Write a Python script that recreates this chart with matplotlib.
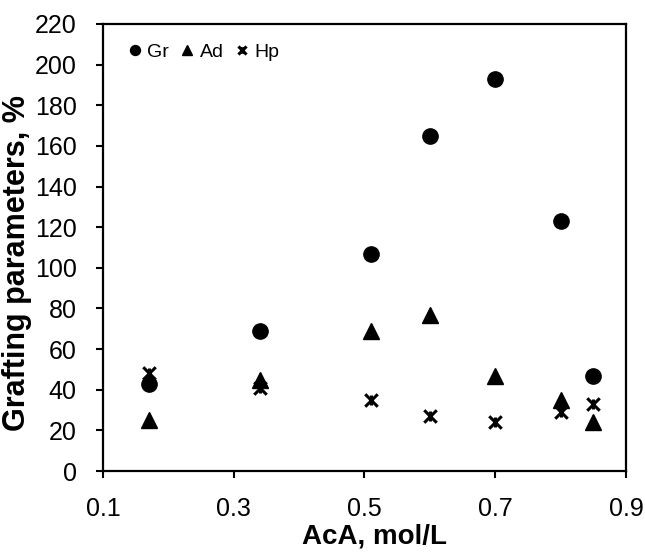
import numpy as np
import matplotlib
matplotlib.use("Agg")
import matplotlib.pyplot as plt
from matplotlib.path import Path

plt.rcParams['font.family'] = ['Liberation Sans', 'DejaVu Sans']

# donnees
aca = [0.17, 0.34, 0.51, 0.60, 0.70, 0.80, 0.85]
gr = [43, 69, 107, 165, 193, 123, 47]
ad = [25, 45, 69, 77, 47, 35, 24]
hp = [48, 41, 35, 27, 24, 29, 33]

xticks = [0.1, 0.3, 0.5, 0.7, 0.9]
yticks = list(range(0, 221, 20))

# marqueur etoile facon Excel (x + trait vertical)
star = Path([(-1, -1), (1, 1), (-1, 1), (1, -1), (0, -0.8), (0, 0.8)],
            [Path.MOVETO, Path.LINETO, Path.MOVETO, Path.LINETO, Path.MOVETO, Path.LINETO])

fig = plt.figure(figsize=(6.45, 5.54), dpi=100)
ax = fig.add_axes([0.1597, 0.1498, 0.8108, 0.8069])

ax.plot(aca, gr, 'o', color='black', markersize=11, label='Gr')
ax.plot(aca, ad, '^', color='black', markersize=11, label='Ad')
ax.plot(aca, hp, linestyle='none', marker=star, color='black', markersize=9,
        markeredgewidth=2.2, label='Hp')

ax.set_xlim(0.1, 0.9)
ax.set_ylim(0, 220)
ax.set_xticks(xticks)
ax.set_xticklabels([str(v) for v in xticks])
ax.set_yticks(yticks)
ax.tick_params(labelsize=18, width=1.5, length=5, direction='out', colors='black')
ax.tick_params(axis='x', pad=14)
ax.tick_params(axis='y', pad=14)
for s in ax.spines.values():
    s.set_linewidth(1.6)

ax.set_xlabel('AcA, mol/L', fontsize=20, fontweight='bold')
ax.xaxis.set_label_coords(0.52, -0.118)
ax.set_ylabel('Grafting parameters, %', fontsize=22, fontweight='bold')
ax.yaxis.set_label_coords(-0.135, 0.465)

ax.legend(loc='upper left', ncol=3, frameon=False, fontsize=14, handletextpad=0.27,
          columnspacing=0.6, handlelength=0.7, markerscale=0.65, borderpad=0,
          borderaxespad=0, bbox_to_anchor=(0.1988, 0.922), bbox_transform=fig.transFigure)

plt.savefig('out.png', dpi=100)
